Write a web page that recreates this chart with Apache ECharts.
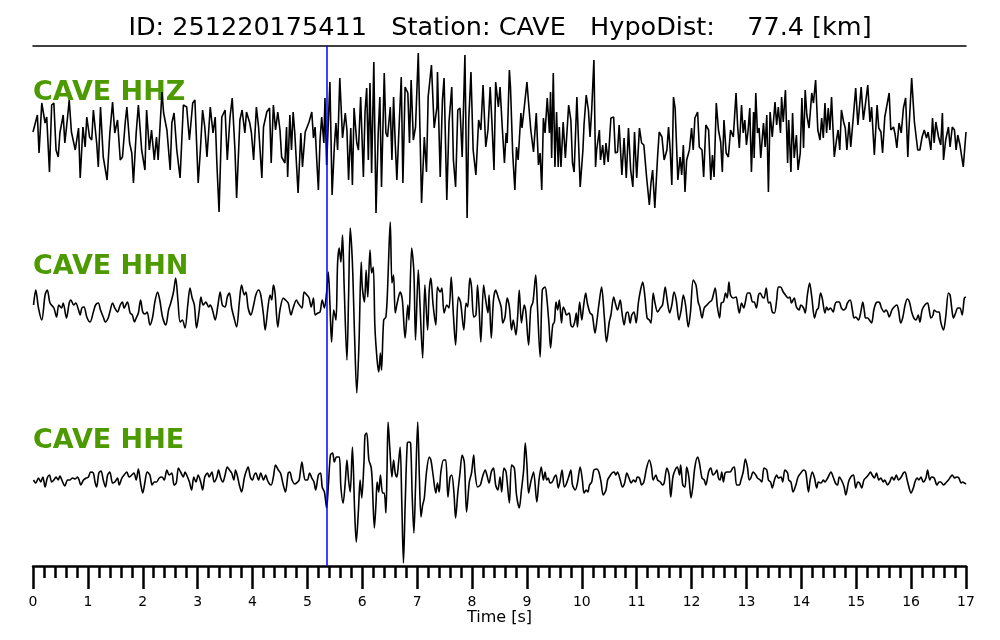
<!DOCTYPE html>
<html>
<head>
<meta charset="utf-8">
<title>CAVE waveforms</title>
<script src="https://cdn.jsdelivr.net/npm/echarts@6/dist/echarts.min.js"></script>
<style>
  html, body { margin: 0; padding: 0; background: #fff; }
  #chart { width: 1000px; height: 640px; }
</style>
</head>
<body>
<div id="chart"></div>
<script>
// pick time of the P arrival [s]
const pickTime = 5.36

const titleText = 'ID: 251220175411   Station: CAVE   HypoDist:    77.4 [km]'
const traceNames = ['CAVE HHZ', 'CAVE HHN', 'CAVE HHE']

// [time s, amplitude]
const hhz = [
  [0.00,-2],[0.08,15],[0.11,-23],[0.16,27],[0.22,7],[0.25,13],[0.30,-42],[0.34,25],[0.38,27],[0.42,-20],
  [0.46,-27],[0.49,-3],[0.55,15],[0.58,-13],[0.63,13],[0.66,30],[0.70,-2],[0.77,-20],[0.83,2],[0.86,-48],
  [0.91,3],[0.95,-17],[0.98,13],[1.03,-7],[1.07,-10],[1.10,20],[1.16,-13],[1.19,-37],[1.23,23],[1.28,-27],
  [1.35,-50],[1.40,-3],[1.45,28],[1.49,-3],[1.54,10],[1.59,-30],[1.63,-27],[1.68,7],[1.71,23],[1.76,-13],
  [1.80,-23],[1.83,-53],[1.88,-3],[1.92,25],[1.98,-20],[2.04,-40],[2.07,20],[2.12,-20],[2.16,0],[2.21,-30],
  [2.25,-7],[2.28,-30],[2.35,38],[2.38,17],[2.44,0],[2.50,-40],[2.53,7],[2.57,17],[2.62,-20],[2.68,-48],
  [2.74,25],[2.80,23],[2.85,-10],[2.91,27],[2.95,30],[3.01,-53],[3.05,-20],[3.09,20],[3.13,3],[3.17,-27],
  [3.23,23],[3.28,-3],[3.32,13],[3.35,-33],[3.39,-82],[3.44,13],[3.50,20],[3.54,-30],[3.59,13],[3.63,32],
  [3.68,-20],[3.71,-68],[3.77,10],[3.81,20],[3.86,-3],[3.89,18],[3.95,7],[3.98,-3],[4.02,-30],[4.07,23],
  [4.11,3],[4.17,-48],[4.20,3],[4.26,18],[4.31,22],
  [4.34,-33],[4.38,25],[4.42,0],[4.46,18],[4.50,0],[4.53,-27],[4.59,-33],[4.62,3],[4.64,-47],[4.68,15],
  [4.71,-20],[4.74,18],[4.77,-3],[4.83,-63],[4.88,-3],[4.91,-37],[4.96,-2],[5.03,8],[5.08,18],[5.11,-8],
  [5.14,3],[5.17,-30],[5.20,-60],[5.23,-10],[5.26,13],[5.30,-13],[5.32,32],[5.35,-35],[5.41,48],[5.45,-65],
  [5.49,-17],[5.52,7],[5.55,-20],[5.59,52],[5.64,-8],[5.69,17],[5.72,0],[5.75,-50],[5.79,2],[5.82,-55],
  [5.85,22],[5.90,-13],[5.93,-20],[5.97,33],[6.02,-47],[6.05,18],[6.08,42],[6.11,-30],[6.14,47],[6.17,-43],
  [6.21,68],[6.25,-83],[6.29,-3],[6.32,33],[6.35,-57],[6.40,57],[6.43,-3],[6.46,-7],[6.51,23],[6.54,-30],
  [6.57,33],[6.60,-13],[6.63,-50],[6.66,-10],[6.71,53],[6.74,-53],[6.78,43],[6.83,37],[6.86,-13],[6.89,50],
  [6.93,-10],[6.97,3],[7.02,77],[7.08,-73],[7.13,-7],[7.17,-42],[7.20,33],[7.26,65],[7.31,2],[7.36,23],
  [7.37,58],[7.42,-47],[7.46,30],[7.49,52],[7.54,-70],[7.58,8],[7.63,43],[7.66,-30],[7.70,-57],[7.74,20],
  [7.78,22],[7.82,-27],[7.87,75],[7.91,-88],[7.94,10],[7.98,58],[8.02,-20],[8.07,-45],[8.12,10],[8.16,0],
  [8.20,45],[8.25,-17],[8.29,0],[8.33,43],[8.36,10],[8.40,-40],[8.43,48],[8.48,23],[8.51,43],[8.55,3],
  [8.59,-33],[8.62,-3],[8.64,-13],[8.68,60],[8.70,43],[8.74,-23],[8.78,-60],[8.81,-17],[8.84,-30],[8.89,17],
  [8.91,2],[8.95,22],[9.00,48],[9.03,27],[9.07,0],[9.12,-22],[9.17,17],[9.21,-35],[9.24,-23],[9.27,-60],
  [9.30,12],[9.33,-3],[9.37,32],[9.41,-3],[9.43,38],[9.45,-28],[9.48,57],[9.51,-37],[9.54,18],[9.57,-37],
  [9.59,3],[9.62,-37],[9.66,8],[9.70,-28],[9.76,25],[9.80,10],[9.83,-33],[9.86,-42],[9.91,33],[9.97,-57],
  [10.02,-20],[10.04,5],[10.08,35],[10.12,20],[10.15,-7],[10.18,20],[10.22,70],[10.25,-37],[10.27,-20],[10.32,0],
  [10.34,-30],[10.38,-15],[10.41,-35],[10.44,-13],[10.48,-32],[10.53,12],[10.58,13],[10.61,-23],[10.65,-22],[10.68,5],
  [10.73,-45],[10.77,-8],[10.81,-48],[10.85,2],[10.89,-40],[10.93,-57],[10.96,-2],[11.00,-48],[11.05,2],[11.09,-13],
  [11.13,-15],[11.18,-47],[11.23,-75],[11.26,-53],[11.29,-40],[11.33,-78],[11.38,-27],[11.41,-2],[11.46,-7],[11.50,-30],
  [11.55,-20],[11.58,3],[11.61,-20],[11.64,-55],[11.67,33],[11.70,22],[11.75,-50],[11.79,-27],[11.82,-45],[11.85,-15],
  [11.88,-62],[11.91,-30],[11.96,-20],[12.00,2],[12.03,-20],[12.06,12],[12.11,18],[12.14,-17],[12.19,-20],[12.22,-47],
  [12.26,5],[12.31,0],[12.35,-50],[12.38,-25],[12.41,-47],[12.45,27],[12.49,0],[12.53,-12],[12.56,-42],[12.59,10],
  [12.63,-23],[12.67,-27],[12.71,0],[12.76,-7],[12.81,37],[12.84,3],[12.87,-18],[12.91,25],[12.94,-3],[12.97,10],
  [13.00,-15],[13.03,0],[13.06,22],[13.09,-42],[13.13,18],[13.14,-28],[13.17,37],[13.20,-3],[13.23,2],[13.26,-28],
  [13.31,7],[13.34,-17],[13.37,15],[13.40,-62],[13.43,18],[13.47,-7],[13.52,28],[13.55,5],[13.58,23],[13.62,-3],
  [13.64,33],[13.67,8],[13.71,40],[13.75,-33],[13.77,10],[13.81,-42],[13.84,17],[13.87,-28],[13.91,-5],[13.94,-40],
  [13.98,-23],[14.01,32],[14.04,-18],[14.07,40],[14.10,15],[14.14,2],[14.19,37],[14.22,27],[14.26,50],[14.30,0],
  [14.34,-10],[14.37,12],[14.40,-8],[14.43,27],[14.46,-3],[14.49,22],[14.52,0],[14.55,33],[14.60,-27],[14.64,-10],
  [14.67,0],[14.70,-20],[14.73,20],[14.77,8],[14.80,2],[14.83,-20],[14.87,8],[14.90,-17],[14.95,15],[14.99,42],
  [15.03,5],[15.05,17],[15.09,43],[15.13,10],[15.17,27],[15.21,45],[15.25,8],[15.28,23],[15.33,-25],[15.38,25],
  [15.41,2],[15.45,-2],[15.48,-23],[15.52,13],[15.55,22],[15.60,37],[15.63,0],[15.68,3],[15.71,-5],[15.74,-18],
  [15.78,7],[15.82,-3],[15.86,22],[15.90,32],[15.94,-27],[15.96,0],[16.01,52],[16.06,8],[16.08,10],[16.12,-20],
  [16.16,-20],[16.20,-7],[16.24,0],[16.28,-8],[16.31,-2],[16.36,-20],[16.39,12],[16.42,-13],[16.45,8],[16.50,-7],
  [16.54,-15],[16.57,17],[16.59,-30],[16.63,-10],[16.68,3],[16.71,-17],[16.75,3],[16.79,0],[16.82,-20],[16.85,-5],
  [16.89,-15],[16.92,-17],[16.95,-37],[17.00,-2]
]

const hhn = [
  [0.01,0],[0.05,15],[0.10,-3],[0.16,-15],[0.22,10],[0.26,15],[0.31,2],[0.38,-3],[0.43,-12],[0.47,0],
  [0.52,-3],[0.55,2],[0.61,-13],[0.66,2],[0.69,5],[0.74,0],[0.78,2],[0.83,-5],[0.86,-10],[0.89,-3],
  [0.93,-2],[0.98,-12],[1.04,-17],[1.10,-7],[1.14,0],[1.19,2],[1.23,-5],[1.28,-12],[1.32,-17],[1.37,-13],
  [1.40,-7],[1.45,2],[1.49,-3],[1.54,-7],[1.59,0],[1.63,3],[1.66,-3],[1.72,3],[1.77,-8],[1.81,-10],
  [1.85,-17],[1.88,-13],[1.92,-8],[1.96,5],[2.00,-7],[2.04,-9],[2.08,-7],[2.13,-20],[2.18,-12],[2.22,3],
  [2.27,13],[2.31,5],[2.36,-12],[2.42,-20],[2.47,-5],[2.51,2],[2.56,13],[2.60,27],[2.64,5],[2.68,-17],
  [2.72,-15],[2.77,-23],[2.82,0],[2.86,17],[2.90,7],[2.94,0],[2.98,-23],[3.03,-5],[3.06,8],[3.10,0],
  [3.15,3],[3.20,-2],[3.23,0],[3.27,-5],[3.32,-15],[3.37,0],[3.41,13],[3.45,0],[3.50,-2],[3.54,8],
  [3.58,12],[3.62,-3],[3.66,-12],[3.71,-22],[3.76,3],[3.80,20],[3.85,10],[3.88,13],[3.92,-3],[3.97,-10],
  [4.02,0],[4.06,10],[4.11,15],[4.15,10],[4.20,-10],[4.23,-25],[4.28,-3],[4.32,10],[4.35,5],[4.38,20],
  [4.41,12],[4.46,-22],[4.50,-5],[4.56,7],[4.60,5],[4.65,2],[4.70,-10],[4.74,-3],[4.80,5],[4.83,2],
  [4.90,-3],[4.94,13],[4.99,10],[5.03,7],[5.07,-2],[5.11,7],[5.14,-10],[5.19,-8],[5.23,-7],[5.27,5],
  [5.31,-3],[5.35,13],[5.38,33],[5.41,2],[5.44,-37],[5.48,-5],[5.52,-15],[5.55,42],[5.58,57],[5.61,43],
  [5.64,70],[5.67,18],[5.72,-55],[5.75,8],[5.78,77],[5.82,42],[5.86,-32],[5.90,-88],[5.94,-38],[5.98,43],
  [6.00,18],[6.04,3],[6.07,35],[6.10,8],[6.14,55],[6.17,32],[6.20,38],[6.23,-22],[6.27,-55],[6.30,-67],
  [6.33,-48],[6.35,-65],[6.39,-15],[6.43,-12],[6.46,15],[6.49,62],[6.51,83],[6.54,22],[6.57,30],[6.60,-8],
  [6.64,3],[6.69,13],[6.73,5],[6.78,-33],[6.83,0],[6.85,-15],[6.90,57],[6.94,33],[6.97,-35],[7.02,35],
  [7.05,2],[7.10,-53],[7.14,20],[7.19,-25],[7.22,15],[7.25,27],[7.29,0],[7.34,-20],[7.37,18],[7.42,13],
  [7.45,17],[7.49,-8],[7.54,0],[7.58,-3],[7.62,28],[7.66,-10],[7.70,-40],[7.75,8],[7.79,3],[7.85,-25],
  [7.89,2],[7.92,-2],[7.96,27],[7.99,18],[8.03,-12],[8.07,-10],[8.10,20],[8.13,-5],[8.16,-37],[8.21,20],
  [8.24,8],[8.29,-8],[8.31,10],[8.35,-33],[8.39,5],[8.43,15],[8.48,7],[8.53,-2],[8.56,-18],[8.60,-12],
  [8.64,7],[8.68,-2],[8.72,-25],[8.75,-15],[8.80,-30],[8.83,-12],[8.86,15],[8.90,-18],[8.95,0],[8.98,-7],
  [9.03,-40],[9.07,-3],[9.11,3],[9.16,30],[9.19,0],[9.24,-52],[9.28,15],[9.33,18],[9.36,8],[9.40,-18],
  [9.43,-43],[9.47,-20],[9.50,-17],[9.53,3],[9.56,-5],[9.59,5],[9.63,-18],[9.66,-2],[9.69,-5],[9.72,-10],
  [9.77,-8],[9.80,-20],[9.83,-22],[9.87,-17],[9.90,-8],[9.92,-22],[9.96,3],[10.00,-15],[10.03,-2],[10.07,12],
  [10.10,2],[10.15,-8],[10.19,-10],[10.24,-28],[10.27,-18],[10.31,0],[10.36,18],[10.41,-12],[10.45,-37],[10.50,-17],
  [10.53,-10],[10.58,8],[10.61,2],[10.65,-5],[10.70,5],[10.73,-7],[10.77,-20],[10.81,-8],[10.84,-7],[10.88,-18],
  [10.91,-10],[10.95,-7],[10.99,-18],[11.03,2],[11.07,15],[11.11,23],[11.15,8],[11.19,-13],[11.23,-15],[11.26,-18],
  [11.30,12],[11.33,3],[11.38,-7],[11.43,-3],[11.47,0],[11.52,18],[11.55,7],[11.60,-8],[11.64,0],[11.68,13],
  [11.72,5],[11.77,-15],[11.81,-5],[11.85,10],[11.89,0],[11.94,-22],[11.98,-7],[12.03,25],[12.08,20],[12.12,3],
  [12.15,-2],[12.19,-13],[12.23,-3],[12.28,0],[12.33,3],[12.37,5],[12.43,17],[12.47,-2],[12.51,-13],[12.54,2],
  [12.58,3],[12.62,12],[12.65,7],[12.68,23],[12.71,10],[12.76,7],[12.81,8],[12.84,0],[12.87,-8],[12.91,2],
  [12.95,-3],[12.98,3],[13.02,12],[13.06,12],[13.11,3],[13.14,3],[13.18,-3],[13.22,10],[13.25,12],[13.29,8],
  [13.32,7],[13.36,17],[13.40,2],[13.43,3],[13.47,-7],[13.51,-8],[13.55,5],[13.58,18],[13.62,18],[13.67,13],
  [13.71,10],[13.76,7],[13.79,8],[13.82,2],[13.87,7],[13.91,-2],[13.96,-5],[13.99,0],[14.04,-3],[14.07,-8],
  [14.11,10],[14.15,22],[14.19,8],[14.24,-13],[14.28,-5],[14.31,-3],[14.35,12],[14.38,7],[14.43,-8],[14.46,-2],
  [14.49,-5],[14.53,-3],[14.58,-7],[14.61,0],[14.64,3],[14.69,3],[14.73,-3],[14.77,-5],[14.81,-3],[14.84,2],
  [14.89,5],[14.93,-5],[14.96,-13],[14.99,-12],[15.04,-15],[15.08,-8],[15.12,3],[15.15,-7],[15.17,-13],[15.21,-13],
  [15.24,-15],[15.28,-18],[15.32,-5],[15.36,2],[15.40,3],[15.43,2],[15.46,-3],[15.51,-7],[15.54,-5],[15.57,-7],
  [15.60,-12],[15.65,-5],[15.69,-2],[15.74,0],[15.77,-5],[15.81,-18],[15.85,-12],[15.89,0],[15.93,6],[15.97,3],
  [16.01,-7],[16.05,-13],[16.09,-15],[16.13,-10],[16.16,-17],[16.20,-5],[16.25,0],[16.30,2],[16.33,-5],[16.36,-13],
  [16.40,-10],[16.42,-5],[16.47,-7],[16.51,-7],[16.54,-17],[16.59,-25],[16.63,-12],[16.68,12],[16.71,10],[16.74,-3],
  [16.77,-13],[16.81,-8],[16.85,-3],[16.89,-3],[16.93,-10],[16.97,7],[17.00,8]
]

const hhe = [
  [0.01,2],[0.05,-1],[0.10,4],[0.14,0],[0.18,5],[0.22,-5],[0.26,4],[0.30,7],[0.34,0],[0.38,2],
  [0.42,5],[0.46,2],[0.49,6],[0.54,0],[0.58,-4],[0.63,2],[0.67,2],[0.72,4],[0.77,3],[0.81,5],
  [0.84,2],[0.87,-3],[0.92,2],[0.97,4],[1.01,5],[1.05,10],[1.10,9],[1.13,0],[1.16,-5],[1.20,9],
  [1.24,11],[1.28,2],[1.32,-5],[1.36,7],[1.40,10],[1.45,-1],[1.49,0],[1.54,4],[1.57,-3],[1.62,4],
  [1.66,7],[1.71,10],[1.75,5],[1.80,7],[1.84,9],[1.88,2],[1.92,13],[1.96,-1],[2.00,-11],[2.04,0],
  [2.08,10],[2.13,7],[2.17,-3],[2.21,0],[2.25,0],[2.30,4],[2.35,5],[2.39,2],[2.44,12],[2.48,7],
  [2.53,9],[2.57,-3],[2.61,-1],[2.65,14],[2.69,10],[2.74,5],[2.77,10],[2.80,7],[2.85,0],[2.89,-8],
  [2.93,5],[2.97,0],[3.01,7],[3.06,-1],[3.09,-8],[3.13,5],[3.18,9],[3.21,5],[3.26,10],[3.30,0],
  [3.35,5],[3.38,12],[3.42,4],[3.46,0],[3.50,7],[3.54,15],[3.58,12],[3.62,9],[3.66,2],[3.69,12],
  [3.72,7],[3.76,-3],[3.80,-10],[3.85,4],[3.88,10],[3.92,15],[3.96,5],[4.00,2],[4.03,7],[4.06,9],
  [4.11,2],[4.15,9],[4.20,2],[4.24,7],[4.27,2],[4.31,-2],[4.34,-3],[4.38,5],[4.42,17],[4.47,12],
  [4.51,9],[4.56,-3],[4.60,-10],[4.65,9],[4.68,10],[4.72,2],[4.77,-2],[4.82,0],[4.85,2],[4.90,20],
  [4.93,9],[4.96,2],[5.00,2],[5.04,9],[5.08,4],[5.12,0],[5.15,-8],[5.20,7],[5.24,9],[5.27,-5],
  [5.31,-10],[5.35,-26],[5.38,-5],[5.42,27],[5.46,29],[5.49,20],[5.53,25],[5.58,25],[5.61,-5],[5.65,-21],
  [5.69,0],[5.72,22],[5.75,2],[5.78,-10],[5.82,35],[5.86,-28],[5.89,-60],[5.93,-28],[5.96,2],[5.99,-16],
  [6.03,19],[6.05,47],[6.08,49],[6.12,22],[6.16,15],[6.18,2],[6.22,-46],[6.25,-21],[6.27,0],[6.30,-10],
  [6.33,7],[6.37,-11],[6.40,-11],[6.43,-31],[6.45,10],[6.47,60],[6.50,35],[6.54,5],[6.57,22],[6.60,9],
  [6.63,5],[6.66,19],[6.69,35],[6.72,-21],[6.75,-81],[6.78,-25],[6.82,39],[6.85,40],[6.88,39],[6.91,-15],
  [6.94,-51],[6.97,-5],[7.01,60],[7.04,5],[7.07,-35],[7.10,-23],[7.13,-16],[7.17,10],[7.22,25],[7.25,22],
  [7.29,7],[7.34,-11],[7.37,-1],[7.40,-10],[7.43,9],[7.48,22],[7.52,22],[7.56,-15],[7.60,5],[7.63,7],
  [7.67,-11],[7.70,-36],[7.74,-11],[7.78,9],[7.82,27],[7.86,19],[7.90,-30],[7.95,0],[7.99,9],[8.03,27],
  [8.05,12],[8.10,-5],[8.15,-3],[8.19,5],[8.24,12],[8.27,7],[8.31,-1],[8.35,10],[8.39,14],[8.43,-3],
  [8.47,-8],[8.51,5],[8.54,-10],[8.58,14],[8.62,10],[8.68,-21],[8.72,17],[8.77,14],[8.81,-13],[8.86,-26],
  [8.90,-8],[8.94,12],[8.97,39],[9.00,17],[9.03,-11],[9.07,0],[9.12,10],[9.18,-20],[9.22,2],[9.26,15],
  [9.30,2],[9.33,10],[9.36,2],[9.39,4],[9.42,-1],[9.46,0],[9.50,5],[9.53,7],[9.57,-6],[9.60,0],
  [9.64,12],[9.68,-5],[9.71,-3],[9.76,5],[9.80,12],[9.83,-3],[9.88,-8],[9.92,-1],[9.97,15],[10.01,2],
  [10.04,-11],[10.08,-8],[10.11,-10],[10.14,-3],[10.18,0],[10.22,12],[10.27,13],[10.31,10],[10.35,0],[10.39,-13],
  [10.44,-8],[10.47,2],[10.50,5],[10.55,9],[10.59,10],[10.62,7],[10.65,10],[10.70,2],[10.74,-5],[10.78,-1],
  [10.82,9],[10.86,4],[10.90,-1],[10.94,2],[10.98,0],[11.01,5],[11.05,4],[11.09,-3],[11.13,0],[11.18,14],
  [11.23,22],[11.27,14],[11.30,2],[11.35,7],[11.38,2],[11.43,0],[11.47,-3],[11.50,-1],[11.55,14],[11.59,7],
  [11.62,-15],[11.66,5],[11.70,12],[11.74,15],[11.78,7],[11.80,17],[11.84,-3],[11.88,-5],[11.91,15],[11.95,5],
  [11.99,-16],[12.02,-6],[12.06,15],[12.11,25],[12.14,20],[12.19,4],[12.23,2],[12.26,-3],[12.31,10],[12.35,14],
  [12.39,7],[12.43,9],[12.46,12],[12.49,4],[12.52,2],[12.55,10],[12.58,0],[12.61,9],[12.64,10],[12.70,10],
  [12.75,14],[12.78,15],[12.82,-3],[12.87,-3],[12.90,2],[12.94,10],[12.98,23],[13.02,14],[13.05,2],[13.08,4],
  [13.12,10],[13.17,7],[13.20,4],[13.25,2],[13.28,0],[13.32,14],[13.37,12],[13.40,2],[13.44,0],[13.47,-6],
  [13.51,2],[13.55,7],[13.58,4],[13.63,5],[13.66,0],[13.70,12],[13.75,9],[13.77,2],[13.81,0],[13.85,-10],
  [13.90,-3],[13.94,5],[13.99,9],[14.04,12],[14.08,10],[14.13,-10],[14.16,2],[14.20,10],[14.24,4],[14.28,-6],
  [14.31,0],[14.36,-1],[14.40,2],[14.43,0],[14.48,4],[14.54,10],[14.58,5],[14.62,-1],[14.66,-3],[14.69,5],
  [14.73,2],[14.78,-5],[14.81,-13],[14.86,0],[14.90,5],[14.95,7],[14.99,-6],[15.03,0],[15.06,-1],[15.10,-6],
  [15.14,2],[15.19,5],[15.22,7],[15.26,10],[15.29,7],[15.33,4],[15.37,9],[15.41,2],[15.45,4],[15.49,0],
  [15.52,2],[15.57,-3],[15.61,0],[15.65,5],[15.69,2],[15.73,7],[15.77,2],[15.82,5],[15.86,9],[15.89,10],
  [15.92,4],[15.95,-3],[16.00,-11],[16.04,-6],[16.07,0],[16.11,4],[16.14,2],[16.18,5],[16.22,0],[16.27,4],
  [16.30,12],[16.34,2],[16.37,5],[16.42,4],[16.47,-3],[16.51,0],[16.54,0],[16.59,-3],[16.63,-1],[16.68,2],
  [16.73,6],[16.75,7],[16.79,4],[16.83,5],[16.87,4],[16.91,-1],[16.94,0],[16.97,-1],[17.00,-2]
]

const traces = [hhz, hhn, hhe]

const chart = echarts.init(document.getElementById('chart'))

const font = 'DejaVu Sans'
// three stacked panels, touching each other so the pick line runs through
const grids = [
  { left: 33, right: 34, top: 46, height: 174 },
  { left: 33, right: 34, top: 220, height: 173 },
  { left: 33, right: 34, top: 393, height: 173 }
]
const yRanges = [[-90, 84], [-88, 85], [-84, 89]]
const labelTops = [79, 253, 427]

const xAxes = grids.map((g, i) => ({
  type: 'value',
  gridIndex: i,
  min: 0,
  max: 17,
  interval: 1,
  position: i === 0 ? 'top' : 'bottom',
  splitLine: { show: false },
  axisLine: {
    show: i !== 1,
    onZero: false,
    lineStyle: { color: '#000', width: i === 0 ? 1.5 : 2.5 }
  },
  axisTick: { show: i === 2, length: 23, lineStyle: { color: '#000', width: 2.5 } },
  minorTick: { show: i === 2, splitNumber: 5, length: 12, lineStyle: { color: '#000', width: 2.5 } },
  axisLabel: { show: i === 2, color: '#000', fontSize: 14, fontFamily: font, margin: 29 },
  name: i === 2 ? 'Time [s]' : '',
  nameLocation: 'middle',
  nameGap: 43,
  nameTextStyle: { color: '#000', fontSize: 16, fontFamily: font }
}))

const yAxes = yRanges.map((r, i) => ({
  type: 'value',
  gridIndex: i,
  min: r[0],
  max: r[1],
  show: false
}))

const series = traces.map((d, i) => ({
  type: 'line',
  xAxisIndex: i,
  yAxisIndex: i,
  data: d,
  showSymbol: false,
  smooth: i === 0 ? false : 0.3,
  lineStyle: { color: '#000', width: 1.6 },
  z: 3,
  markLine: {
    silent: true,
    symbol: ['none', 'none'],
    label: { show: false },
    lineStyle: { color: '#0000ff', width: 1.5, type: 'solid' },
    data: [{ xAxis: pickTime }]
  }
}))

const option = {
  animation: false,
  backgroundColor: '#fff',
  title: {
    text: titleText,
    left: 'center',
    top: 10,
    textStyle: { color: '#000', fontSize: 25.5, fontWeight: 'normal', fontFamily: font }
  },
  grid: grids,
  xAxis: xAxes,
  yAxis: yAxes,
  series: series,
  graphic: traceNames.map((name, i) => ({
    type: 'text',
    left: 33,
    top: labelTops[i],
    z: 1,
    style: {
      text: name,
      fill: '#4c9a00',
      font: 'bold 27px "DejaVu Sans"'
    }
  }))
}

chart.setOption(option)
</script>
</body>
</html>
